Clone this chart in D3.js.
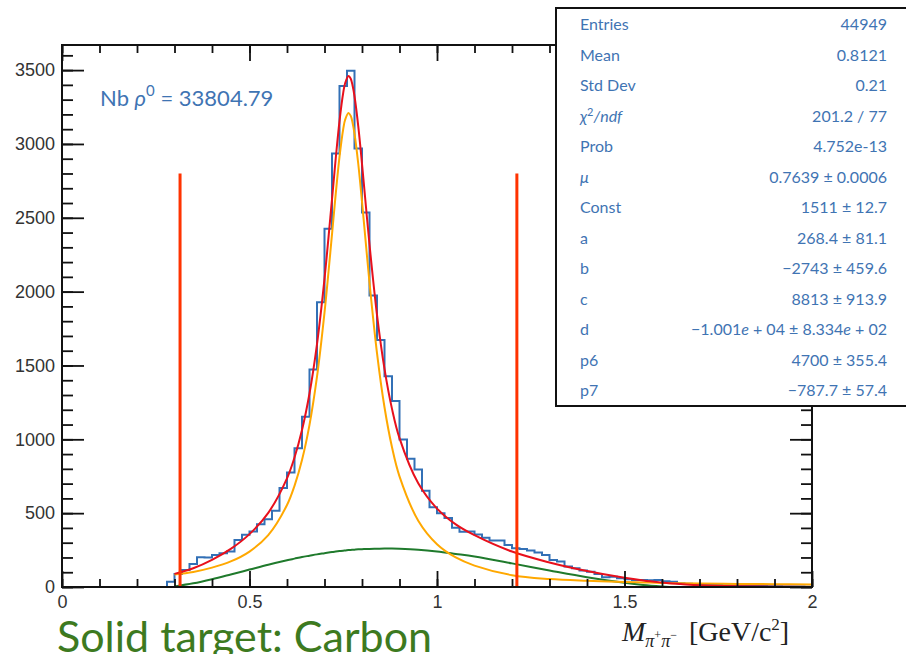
<!DOCTYPE html>
<html>
<head>
<meta charset="utf-8">
<title>rho0 mass fit - Carbon</title>
<script src="https://cdn.jsdelivr.net/npm/d3@7"></script>
<style>
  body { margin: 0; background: #fff; }
  .tick text { font-family: "Liberation Sans Narrow", "Liberation Sans", sans-serif; font-stretch: condensed; font-size: 18px; fill: #333; }
  .tick line { stroke: #111; stroke-width: 1.8; }
  .stats text { font-family: Lato, "Open Sans", sans-serif; font-size: 16px; fill: #3f74b3; }
</style>
</head>
<body>
<svg width="906" height="654"></svg>
<script>
// histogram: 100 bins of 0.02 GeV/c^2 from 0 to 2
const binLow = 0;
const binWidth = 0.02;
const counts = [
  0, 0, 0, 0, 0, 0, 0, 0, 0, 0, 0, 0, 0, 0,
  36, 88, 115, 156, 201, 200, 217, 229, 240, 319,
  353, 375, 425, 458, 516, 670, 775, 940, 1152, 1472,
  1928, 2426, 2936, 3393, 3495, 2970, 2535, 1973, 1673, 1427,
  1260, 999, 868, 795, 652, 540, 500, 467, 401, 374,
  376, 355, 333, 315, 315, 285, 263, 258, 247, 233,
  217, 183, 172, 138, 127, 111, 104, 88, 66, 70,
  59, 52, 48, 48, 45, 48, 39, 36,
  25, 22, 20, 17, 15, 13, 12, 10, 9, 8, 7, 6, 5, 5, 4, 3, 3, 2
];

// fit curves
const fitX = [0.30, 0.35, 0.40, 0.45, 0.50, 0.55, 0.60, 0.62, 0.64, 0.66,
  0.68, 0.70, 0.72, 0.73, 0.74, 0.75, 0.755, 0.764, 0.77, 0.775,
  0.78, 0.79, 0.80, 0.81, 0.82, 0.84, 0.86, 0.88, 0.90, 0.95,
  1.00, 1.05, 1.10, 1.20, 1.30, 1.40, 1.50, 1.55, 1.60, 1.62,
  1.65, 1.70, 1.80, 1.90, 2.00];
const bwVals = [85, 102, 131, 173, 240, 351, 555, 685, 860, 1098,
  1424, 1858, 2388, 2663, 2912, 3102, 3164, 3210, 3190, 3142,
  3070, 2866, 2609, 2333, 2061, 1584, 1217, 946, 749, 449,
  290, 200, 145, 80, 54, 42, 34, 31, 27, 26,
  25, 24, 21, 19, 17];
const bkgVals = [4, 25, 53, 85, 118, 151, 181, 192, 203, 212,
  221, 229, 237, 240, 243, 246, 247, 250, 251, 252,
  253, 255, 256, 257, 258, 259, 260, 260, 259, 253,
  241, 224, 206, 160, 112, 66, 28, 13, 3, 0,
  null, null, null, null, null];
const totalVals = [89, 127, 184, 258, 358, 502, 736, 877, 1063, 1310,
  1645, 2087, 2625, 2903, 3155, 3348, 3411, 3460, 3441, 3394,
  3323, 3121, 2865, 2590, 2319, 1843, 1477, 1206, 1008, 702,
  531, 424, 351, 240, 166, 108, 62, 44, 30, 25,
  20, 12, 5, 2, 0];

// mass window lines
const cutX = [0.3148, 1.2130];
const cutTop = 2800;

// axis ticks
const xMajor = [0, 0.5, 1, 1.5, 2];
const xLabels = ["0", "0.5", "1", "1.5", "2"];
const yMajor = [0, 500, 1000, 1500, 2000, 2500, 3000, 3500];

// stats box
const statNames = ["Entries", "Mean", "Std Dev", "chi2", "Prob", "mu", "Const", "a", "b", "c", "d", "p6", "p7"];
const statValues = ["44949", "0.8121", "0.21", "201.2 / 77", "4.752e-13", "0.7639 \u00b1 0.0006",
  "1511 \u00b1 12.7", "268.4 \u00b1 81.1", "\u22122743 \u00b1 459.6", "8813 \u00b1 913.9",
  "d", "4700 \u00b1 355.4", "\u2212787.7 \u00b1 57.4"];

const nbRho = "33804.79";

const svg = d3.select("svg");
const x = d3.scaleLinear().domain([0, 2]).range([62, 812]);
const y = d3.scaleLinear().domain([0, 3670]).range([587, 45]);

svg.append("clipPath").attr("id", "frame")
  .append("rect").attr("x", 62).attr("y", 45).attr("width", 750).attr("height", 542);

const plot = svg.append("g").attr("clip-path", "url(#frame)");

// histogram outline
const steps = counts.map((c, i) => [binLow + i * binWidth, c]);
steps.unshift([binLow, 0]);
steps.push([binLow + counts.length * binWidth, counts[counts.length - 1]]);
plot.append("path")
  .attr("d", d3.line().x(d => x(d[0])).y(d => y(d[1])).curve(d3.curveStepAfter)(steps))
  .attr("fill", "none").attr("stroke", "#3270b6").attr("stroke-width", 2);

const curve = vals => d3.line()
  .defined((d, i) => vals[i] !== null)
  .x((d, i) => x(fitX[i]))
  .y((d, i) => y(vals[i]))
  .curve(d3.curveCatmullRom.alpha(0.5))(fitX);

plot.append("path").attr("d", curve(bkgVals))
  .attr("fill", "none").attr("stroke", "#1f7a2c").attr("stroke-width", 2);
plot.append("path").attr("d", curve(bwVals))
  .attr("fill", "none").attr("stroke", "#ffa800").attr("stroke-width", 2);
plot.append("path").attr("d", curve(totalVals))
  .attr("fill", "none").attr("stroke", "#e8101c").attr("stroke-width", 2);

plot.selectAll(".cut").data(cutX).enter().append("line")
  .attr("x1", d => x(d)).attr("x2", d => x(d))
  .attr("y1", y(0)).attr("y2", y(cutTop))
  .attr("stroke", "#ff3300").attr("stroke-width", 3);

// axes, ROOT style ticks on all four sides pointing inward
const xMinor = d3.range(0, 2.001, 0.1);
const yMinor = d3.range(0, 3601, 100);

function addAxis(axis, tr, labels) {
  const g = svg.append("g").attr("transform", tr).call(axis);
  g.select(".domain").remove();
  if (!labels) g.selectAll("text").remove();
  return g;
}

addAxis(d3.axisBottom(x).tickValues(xMinor).tickSize(-8).tickFormat(""), "translate(0,587)", false);
addAxis(d3.axisBottom(x).tickValues(xMajor).tickSize(-16).tickPadding(8).tickFormat((d, i) => xLabels[i]), "translate(0,587)", true);
addAxis(d3.axisTop(x).tickValues(xMinor).tickSize(-8).tickFormat(""), "translate(0,45)", false);
addAxis(d3.axisTop(x).tickValues(xMajor).tickSize(-16).tickFormat(""), "translate(0,45)", false);
addAxis(d3.axisLeft(y).tickValues(yMinor).tickSize(-11).tickFormat(""), "translate(62,0)", false);
addAxis(d3.axisLeft(y).tickValues(yMajor).tickSize(-22).tickPadding(7).tickFormat(d3.format("d")), "translate(62,0)", true);
addAxis(d3.axisRight(y).tickValues(yMinor).tickSize(-11).tickFormat(""), "translate(812,0)", false);
addAxis(d3.axisRight(y).tickValues(yMajor).tickSize(-22).tickFormat(""), "translate(812,0)", false);

svg.append("rect").attr("x", 62).attr("y", 45).attr("width", 750).attr("height", 542)
  .attr("fill", "none").attr("stroke", "#111").attr("stroke-width", 2);

// Nb rho label
const nb = svg.append("text").attr("x", 100).attr("y", 106)
  .attr("font-family", "Lato, sans-serif").attr("font-size", 22).attr("fill", "#3f74b3");
nb.append("tspan").text("Nb ");
nb.append("tspan").attr("font-style", "italic").text("\u03c1");
nb.append("tspan").attr("font-size", 15).attr("dy", -10).text("0");
nb.append("tspan").attr("dy", 10).text(" = " + nbRho);

// stats box
const stats = svg.append("g").attr("class", "stats");
stats.append("rect").attr("x", 556).attr("y", 8).attr("width", 360).attr("height", 398)
  .attr("fill", "#fff").attr("stroke", "#111").attr("stroke-width", 2);

statNames.forEach((name, i) => {
  const yy = 30 + i * 30.5;
  const lt = stats.append("text").attr("x", 580).attr("y", yy);
  if (name === "chi2") {
    lt.append("tspan").attr("font-style", "italic").text("\u03c7");
    lt.append("tspan").attr("font-size", 11).attr("dy", -6).text("2");
    lt.append("tspan").attr("font-style", "italic").attr("dy", 6).text("/ndf");
  } else if (name === "mu") {
    lt.append("tspan").attr("font-style", "italic").text("\u03bc");
  } else {
    lt.text(name);
  }
  const rt = stats.append("text").attr("x", 887).attr("y", yy).attr("text-anchor", "end");
  if (statValues[i] === "d") {
    rt.append("tspan").text("\u22121.001");
    rt.append("tspan").attr("font-style", "italic").text("e");
    rt.append("tspan").text(" + 04 \u00b1 8.334");
    rt.append("tspan").attr("font-style", "italic").text("e");
    rt.append("tspan").text(" + 02");
  } else {
    rt.text(statValues[i]);
  }
});

// x axis title
const xt = svg.append("text").attr("x", 622).attr("y", 641)
  .attr("font-family", "'Liberation Serif', serif").attr("font-size", 28).attr("fill", "#222");
xt.append("tspan").attr("font-style", "italic").text("M");
xt.append("tspan").attr("font-style", "italic").attr("font-size", 18).attr("dy", 6).text("\u03c0");
xt.append("tspan").attr("font-size", 12).attr("dy", -8).text("+");
xt.append("tspan").attr("font-style", "italic").attr("font-size", 18).attr("dy", 8).text("\u03c0");
xt.append("tspan").attr("font-size", 12).attr("dy", -8).text("\u2212");
xt.append("tspan").attr("dy", 2).attr("dx", 12).text("[GeV/c");
xt.append("tspan").attr("font-size", 17).attr("dy", -11).text("2");
xt.append("tspan").attr("dy", 11).text("]");

// slide caption
svg.append("text").attr("x", 57).attr("y", 652)
  .attr("font-family", "Lato, sans-serif").attr("font-size", 43).attr("fill", "#3d7a1f")
  .text("Solid target: Carbon");
</script>
</body>
</html>
